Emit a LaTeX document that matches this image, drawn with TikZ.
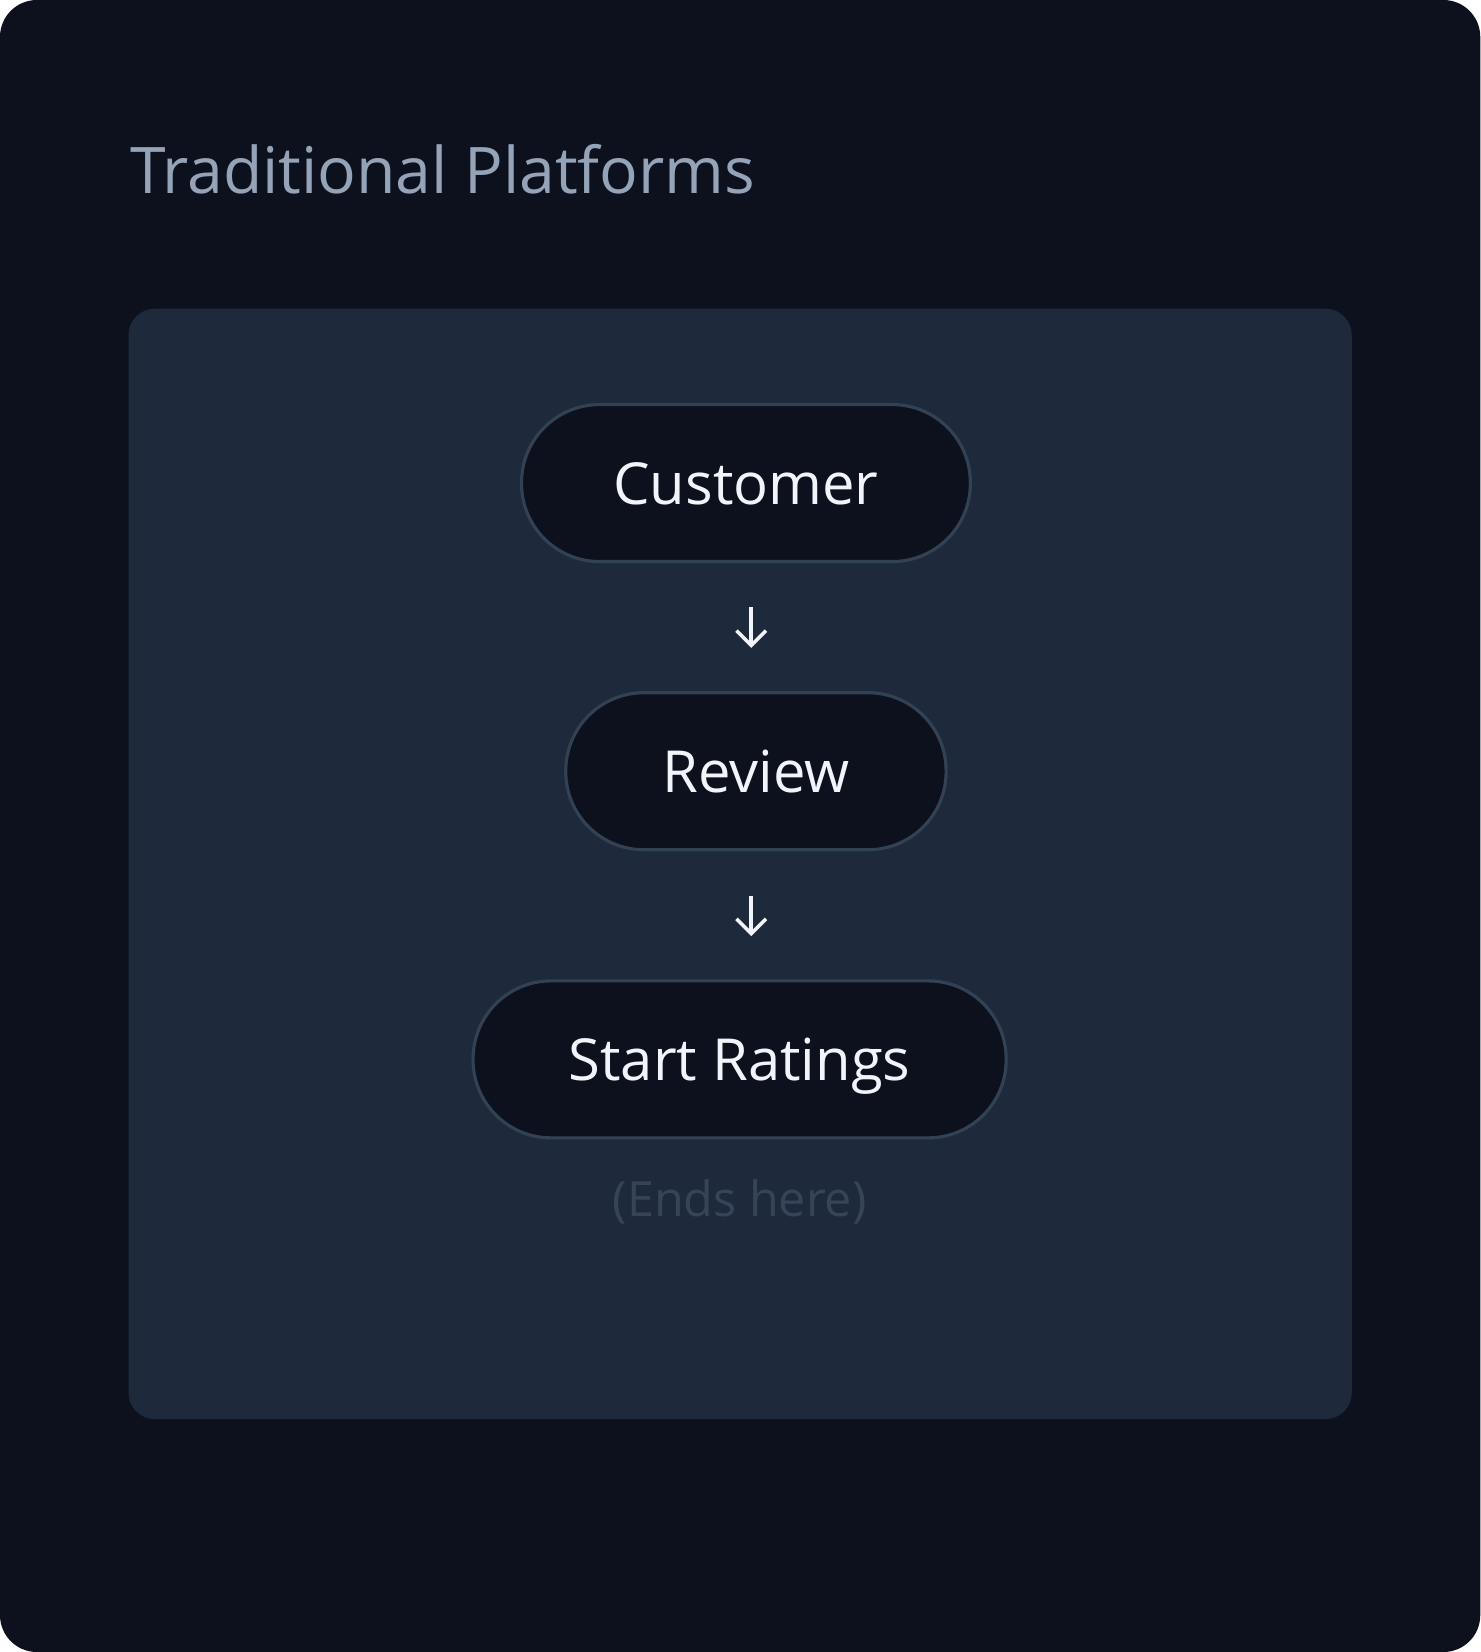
\documentclass[tikz,border=0pt]{standalone}
\usepackage{fontspec}
\setmainfont{Open Sans}
\usepackage{tikz}
\usetikzlibrary{arrows.meta,positioning}

\definecolor{bgdark}{HTML}{0C111D}
\definecolor{panel}{HTML}{1E293B}
\definecolor{pillline}{HTML}{334155}
\definecolor{titlegray}{HTML}{94A3B8}
\definecolor{textwhite}{HTML}{F1F5F9}
\definecolor{endgray}{HTML}{364459}

\tikzset{
	pill/.style={draw=pillline, line width=1.5pt, fill=bgdark, rounded corners=37pt,
		minimum height=74.5pt, text=textwhite, font=\fontsize{27.5}{33}\selectfont,
		text height=20pt, text depth=0pt, inner sep=0pt},
	flow/.style={draw=textwhite, line width=1.7pt, -{Straight Barb[length=7pt,width=14pt]},
		shorten <=21pt, shorten >=20.5pt}
}

\begin{document}
\begin{tikzpicture}[x=0.5pt,y=-0.5pt]
	\useasboundingbox (0,0) rectangle (1405,1568);
	\fill[white] (0,0) rectangle (1405,1568);
	\fill[bgdark, rounded corners=17.5pt] (0,0) rectangle (1405,1568);
	
	\node[anchor=base west, text=titlegray, font=\fontsize{30.5}{36}\selectfont, inner sep=0pt] (title) at (123,184) {Traditional Platforms};
	
	\fill[panel, rounded corners=12.5pt] (122,293) rectangle (1283,1347);
	
	\node[pill, minimum width=213pt] (cust) at (708,458.5) {Customer};
	\node[pill, minimum width=180.5pt] (rev) at (717.5,732) {Review};
	\node[pill, minimum width=253pt] (rate) at (702,1005.5) {Start Ratings};
	
	\node[anchor=base, text=endgray, font=\fontsize{23}{28}\selectfont, inner sep=0pt] (ends) at (702,1155) {(Ends here)};
	
	\coordinate (ax) at (713,0);
	\draw[flow] (cust.south -| ax) -- (rev.north -| ax);
	\draw[flow] (rev.south -| ax) -- (rate.north -| ax);
	
\end{tikzpicture}
\end{document}
